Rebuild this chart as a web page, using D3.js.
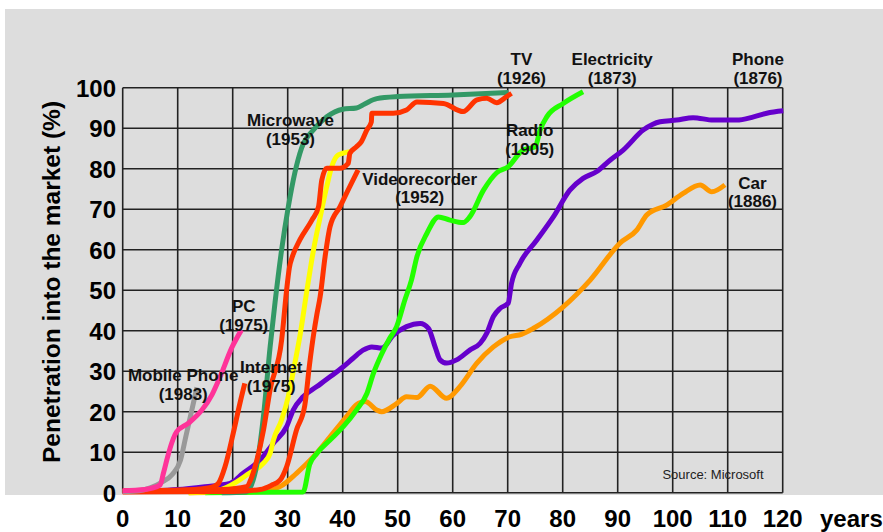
<!DOCTYPE html>
<html>
<head>
<meta charset="utf-8">
<script src="https://cdn.jsdelivr.net/npm/d3@7"></script>
<style>
  html, body { margin: 0; padding: 0; background: #ffffff; }
  svg { display: block; font-family: Arial, "Liberation Sans", Helvetica, sans-serif; }
</style>
</head>
<body>
<svg id="chart" width="883" height="532"></svg>
<script>
// ---- data: [years since introduction, penetration %] ----
const xTicks = [0, 10, 20, 30, 40, 50, 60, 70, 80, 90, 100, 110, 120];
const yTicks = [0, 10, 20, 30, 40, 50, 60, 70, 80, 90, 100];

const mobilePhone = [[0,0.3],[3,0.5],[5,1.2],[7,2.5],[9,4.5],[10.5,8],[11.5,14],[12.5,20],[13.5,26]];
const pc = [[0,0.5],[4,0.8],[6.8,1.9],[7.4,4.8],[8.2,9],[8.9,12.2],[9.8,15],[11.9,17.1],[14.4,20.4],[16.2,24.1],[17.7,28.6],[19.8,35.7],[21.6,40.2]];
const internet = [[0,0.3],[8,0.5],[14,0.9],[16.5,1.5],[17.4,2.3],[18.6,6.4],[20.1,14.7],[21.3,22],[22.2,27]];
const microwave = [[18,0],[22.5,0.2],[24.4,7],[25.6,19],[26.8,36],[27.7,47],[28.9,60],[30.1,70.5],[31.3,79],[32.5,85],[34.7,89.6],[37.1,92.8],[40,94.7],[42.5,95],[44,96],[46.2,97.3],[50,97.8],[60,98.2],[70.1,98.8]];
const yellowLine = [[12,0],[17,0.5],[19.6,1.8],[23,4.8],[25.6,7.3],[26.8,9.7],[27.4,13],[28.9,18],[30.1,23.7],[31.3,32],[32.2,38.5],[33.5,50],[34.7,60],[35.9,68],[37.1,75.6],[38,80.5],[39.2,83.4],[41.3,84.2]];
const tv = [[0,0.5],[10,0.6],[18,0.8],[22.5,1.5],[23.5,4],[24.4,8.1],[25.6,15.5],[26.8,25.4],[28.9,37.7],[29.8,50],[30.3,55.5],[30.9,58.5],[32.2,62.4],[34.4,67.3],[35.6,70.6],[36.2,77.2],[37.1,80.1],[39.5,80.1],[41,81.3],[41.3,83.8],[42.5,85.4],[43.4,86.7],[44.4,89.6],[45.2,91.5],[45.3,93.7],[46.2,93.7],[49.2,93.7],[51.6,94.5],[53.5,96.5],[58.3,96.1],[61.9,94.1],[64.4,97],[66.2,97.4],[68,96.3],[69.8,97.8],[70.7,98.6]];
const videorecorder = [[0,0.2],[20,0.3],[25,0.8],[27,1.8],[28.6,3.1],[29.8,6.4],[31.6,15.5],[33.1,21.5],[34,32],[34.7,39],[35.3,44],[35.9,48.4],[36.8,58.3],[37.7,65.7],[39.5,70.6],[41.3,75.6],[42.8,79.7]];
const phone = [[0,0.3],[10,0.8],[15,1.5],[19.5,2.3],[21.9,4.8],[25,8.1],[27.4,12.2],[29.8,16.3],[31,20.4],[32.8,23.7],[35.3,26.2],[37.7,28.6],[40.1,31.1],[41.9,33.2],[43.7,35.2],[45.3,36],[47.1,35.7],[49.2,38.9],[51.6,41],[54.1,41.8],[55.6,40.6],[56.8,36],[57.7,32.8],[58.9,32],[60.7,32.8],[63.1,35.2],[65,36.9],[66.2,39.4],[67.4,43.5],[68.6,45.5],[70.1,46.8],[70.5,50],[70.7,51.7],[72.2,56.6],[75.3,62.4],[78.3,68.1],[81.3,74.7],[83.7,77.6],[86.2,79.3],[88.6,82.1],[91,84.6],[94.7,89.6],[97.7,91.6],[100.7,92],[103.7,92.6],[107.4,92],[111.6,92],[114.7,92.8],[117.1,93.7],[120.1,94.3]];
const electricity = [[15,0],[32.8,0.2],[34,7],[35.3,9.7],[37.7,13],[40.1,16.3],[42.5,20.4],[44.4,24.5],[45.6,29.5],[47,34],[48.5,38],[49.8,41],[51.3,47.6],[52.5,52.5],[53.5,58.3],[55.3,64],[57.4,68.1],[59.5,67.3],[61.9,66.7],[63.1,68.1],[65.6,74.7],[68,79],[70.1,80.5],[72.8,84.6],[75,85.4],[75.9,89.6],[77.1,92.8],[80.1,96.1],[83.7,99]];
const car = [[12,0],[25,0.3],[28.6,1.5],[31.6,4.8],[34.7,8.9],[37.7,13.8],[40.7,18.8],[42.5,21.7],[44.1,22.5],[46.2,20.4],[47.1,20],[49.8,22],[51.6,23.7],[53.5,23.5],[55.9,26.3],[58.9,23.3],[61.3,26.2],[64.4,32],[67.4,36],[70.4,38.5],[72.5,39.1],[74.7,40.6],[80.1,45.9],[85,52.5],[90.4,61.6],[93.5,64.9],[95.3,68.6],[98.9,71],[101.9,73.9],[105,76],[107.1,74.3],[109.5,76]];

const seriesNames = ["Car", "Phone", "Electricity", "Yellow", "Microwave", "TV", "Videorecorder", "Internet", "Mobile Phone", "PC"];
const seriesData = [car, phone, electricity, yellowLine, microwave, tv, videorecorder, internet, mobilePhone, pc];
const seriesColors = ["#ff9900", "#6600cc", "#22ff00", "#ffff00", "#339966", "#ff3300", "#ff3300", "#ff3300", "#999999", "#ff3399"];

const labelLines = [
  ["TV", "(1926)"], ["Electricity", "(1873)"], ["Phone", "(1876)"], ["Radio", "(1905)"], ["Car", "(1886)"],
  ["Microwave", "(1953)"], ["Videorecorder", "(1952)"], ["PC", "(1975)"], ["Internet", "(1975)"], ["Mobile Phone", "(1983)"]
];
const labelAt = [[72.5, 105.5], [89, 105.5], [115.5, 105.5], [74, 88], [114.5, 75], [30.5, 90.5], [54, 76], [22, 44.5], [27, 29.5], [11, 27.5]];

// ---- layout ----
const svg = d3.select("#chart");
const x = d3.scaleLinear().domain([0, 120]).range([122.7, 782.7]);
const y = d3.scaleLinear().domain([0, 100]).range([492.7, 87.7]);

svg.append("rect").attr("x", 5).attr("y", 9).attr("width", 878).attr("height", 486).attr("fill", "#dddddd");

// grid
const grid = svg.append("g").attr("stroke", "#222").attr("stroke-width", 1.6);
grid.selectAll("line.v").data(xTicks).join("line")
  .attr("x1", d => x(d)).attr("x2", d => x(d)).attr("y1", y(0)).attr("y2", y(100));
grid.selectAll("line.h").data(yTicks).join("line")
  .attr("x1", x(0)).attr("x2", x(120)).attr("y1", d => y(d)).attr("y2", d => y(d));

// axes labels
svg.append("g").selectAll("text").data(yTicks).join("text")
  .attr("x", 116).attr("y", d => y(d)).attr("dy", "0.38em")
  .attr("text-anchor", "end").attr("font-size", 24).attr("font-weight", "bold").text(d => d);
svg.append("g").selectAll("text").data(xTicks).join("text")
  .attr("x", d => x(d)).attr("y", 527)
  .attr("text-anchor", "middle").attr("font-size", 24).attr("font-weight", "bold").text(d => d);
svg.append("text").attr("x", 820).attr("y", 527).attr("font-size", 24).attr("font-weight", "bold").text("years");

svg.append("text")
  .attr("transform", "translate(60,282) rotate(-90)")
  .attr("text-anchor", "middle").attr("font-size", 24.5).attr("font-weight", "bold")
  .text("Penetration into the market (%)");

// curves
const line = d3.line().x(d => x(d[0])).y(d => y(d[1])).curve(d3.curveMonotoneX);
svg.append("g").selectAll("path").data(seriesData).join("path")
  .attr("d", d => line(d))
  .attr("fill", "none")
  .attr("stroke", (d, i) => seriesColors[i])
  .attr("stroke-width", 5)
  .attr("stroke-linejoin", "round")
  .attr("stroke-linecap", "butt");

// series labels
const lg = svg.append("g").attr("font-size", 17).attr("font-weight", "bold").attr("fill", "#111").attr("text-anchor", "middle");
labelLines.forEach((lines, i) => {
  const t = lg.append("text").attr("x", x(labelAt[i][0])).attr("y", y(labelAt[i][1]));
  lines.forEach((s, j) => t.append("tspan").attr("x", x(labelAt[i][0])).attr("dy", j === 0 ? 0 : 18.5).text(s));
});

svg.append("text").attr("x", 713).attr("y", 479).attr("text-anchor", "middle")
  .attr("font-size", 13).attr("fill", "#222").text("Source: Microsoft");
</script>
</body>
</html>
